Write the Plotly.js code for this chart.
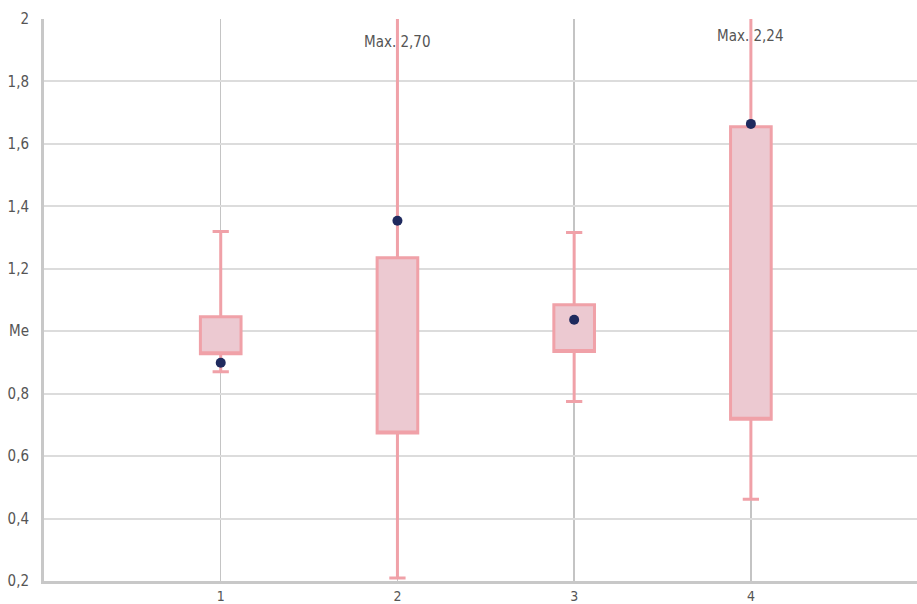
<!DOCTYPE html>
<html>
<head>
<meta charset="utf-8">
<script src="https://cdn.plot.ly/plotly-3.0.1.min.js"></script>
<style>html,body{margin:0;padding:0;background:#fff;}#chart{width:917px;height:604px;}</style>
</head>
<body>
<div id="chart"></div>
<script>
// Data
var categories = [1, 2, 3, 4];
var categoryLabels = ["1", "2", "3", "4"];
var q1Values = [0.928, 0.674, 0.935, 0.718];
var q3Values = [1.046, 1.235, 1.085, 1.655];
var lowerWhisker = [0.870, 0.210, 0.775, 0.462];
var upperWhisker = [1.319, 2.70, 1.316, 2.24];
var pointValues = [0.899, 1.354, 1.037, 1.664];
var maxLabels = ["", "Max. 2,70", "", "Max. 2,24"];
var yTickVals = [0.2, 0.4, 0.6, 0.8, 1.0, 1.2, 1.4, 1.6, 1.8, 2.0];
var yTickText = ["0,2", "0,4", "0,6", "0,8", "Me", "1,2", "1,4", "1,6", "1,8", "2"];

var FONT = "'DejaVu Sans Condensed', 'Liberation Sans Narrow', sans-serif";

var boxTrace = {
  type: 'box',
  x: categories,
  q1: q1Values,
  median: q1Values,
  q3: q3Values,
  lowerfence: lowerWhisker,
  upperfence: upperWhisker,
  boxpoints: false,
  width: 0.23,
  whiskerwidth: 0.4,
  fillcolor: '#ecc9d1',
  line: {color: '#f0a1a8', width: 3},
  hoverinfo: 'skip',
  showlegend: false
};

var pointTrace = {
  type: 'scatter',
  mode: 'markers',
  x: categories,
  y: pointValues,
  marker: {color: '#1f2a5e', size: 10, line: {color: '#1f2a5e', width: 0}},
  hoverinfo: 'skip',
  showlegend: false,
  cliponaxis: false
};

var annotations = [];
for (var i = 0; i < categories.length; i++) {
  if (maxLabels[i]) {
    annotations.push({
      x: categories[i], y: 2.0, xref: 'x', yref: 'y',
      text: maxLabels[i], showarrow: false,
      yanchor: 'top', yshift: i === 1 ? -12 : -6,
      font: {family: FONT, size: 15, color: '#555555'}
    });
  }
}

var layout = {
  width: 917, height: 604,
  margin: {l: 44, r: 0, t: 19, b: 23},
  paper_bgcolor: '#ffffff',
  plot_bgcolor: '#ffffff',
  xaxis: {
    range: [0, 4.94],
    tickvals: categories,
    ticktext: categoryLabels,
    showgrid: true,
    gridcolor: '#c4c4c4',
    gridwidth: 1.5,
    zeroline: false,
    showline: true,
    linecolor: '#c8c8c8',
    linewidth: 3,
    ticks: '',
    ticklabelstandoff: 0,
    tickfont: {family: FONT, size: 14, color: '#555555'},
    fixedrange: true
  },
  yaxis: {
    range: [0.2, 2.0],
    tickvals: yTickVals,
    ticktext: yTickText,
    showgrid: true,
    gridcolor: '#dcdcdc',
    gridwidth: 2,
    zeroline: false,
    showline: true,
    linecolor: '#c8c8c8',
    linewidth: 3,
    ticks: '',
    ticklabelstandoff: 9,
    tickfont: {family: FONT, size: 15, color: '#555555'},
    fixedrange: true
  },
  annotations: annotations,
  showlegend: false
};

Plotly.newPlot('chart', [boxTrace, pointTrace], layout, {staticPlot: true, displayModeBar: false});
</script>
</body>
</html>
